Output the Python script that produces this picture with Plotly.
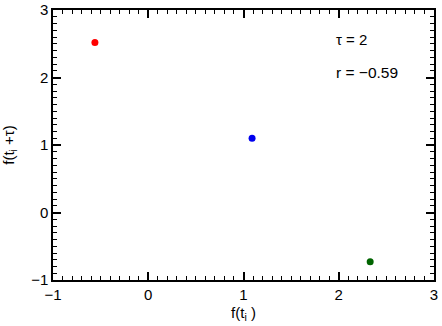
import plotly.graph_objects as go

x_vals = [-0.56, 1.09, 2.33]
y_vals = [2.52, 1.10, -0.73]
colors = ["#ff0000", "#0000ee", "#006400"]
axis_range = [-1, 3]
major_step = 1
minor_step = 0.1
tau_text = "τ = 2"
r_text = "r = −0.59"

FONT = "Liberation Sans, Arial"

fig = go.Figure(go.Scatter(x=x_vals, y=y_vals, mode="markers",
                           marker=dict(color=colors, size=7, line=dict(width=0)),
                           showlegend=False))

common = dict(range=axis_range, dtick=major_step, ticks="inside", ticklen=8, tickwidth=1.5,
              tickcolor="black", showline=True, linecolor="black", linewidth=1.5,
              mirror="allticks", showgrid=False, zeroline=False,
              minor=dict(dtick=minor_step, ticks="inside", ticklen=4, tickwidth=1.2,
                         tickcolor="black", showgrid=False),
              tickfont=dict(family=FONT, size=15, color="black"))

fig.update_xaxes(title=dict(text="f(t<sub>i</sub> )", standoff=6,
                            font=dict(family=FONT, size=15, color="black")), **common)
fig.update_yaxes(title=dict(text="f(t<sub>i</sub> +τ)", standoff=14,
                            font=dict(family=FONT, size=15, color="black")), **common)

fig.add_annotation(x=1.95, y=2.57, text=tau_text, showarrow=False, xanchor="left",
                   yanchor="middle", font=dict(family=FONT, size=15, color="black"))
fig.add_annotation(x=1.95, y=2.07, text=r_text, showarrow=False, xanchor="left",
                   yanchor="middle", font=dict(family=FONT, size=15.5, color="black"))

fig.update_layout(width=442, height=326, margin=dict(l=53, r=8, t=10, b=46),
                  plot_bgcolor="white", paper_bgcolor="white")
fig.update_xaxes(automargin=False)
fig.update_yaxes(automargin=False)

fig.write_html("out.html")
